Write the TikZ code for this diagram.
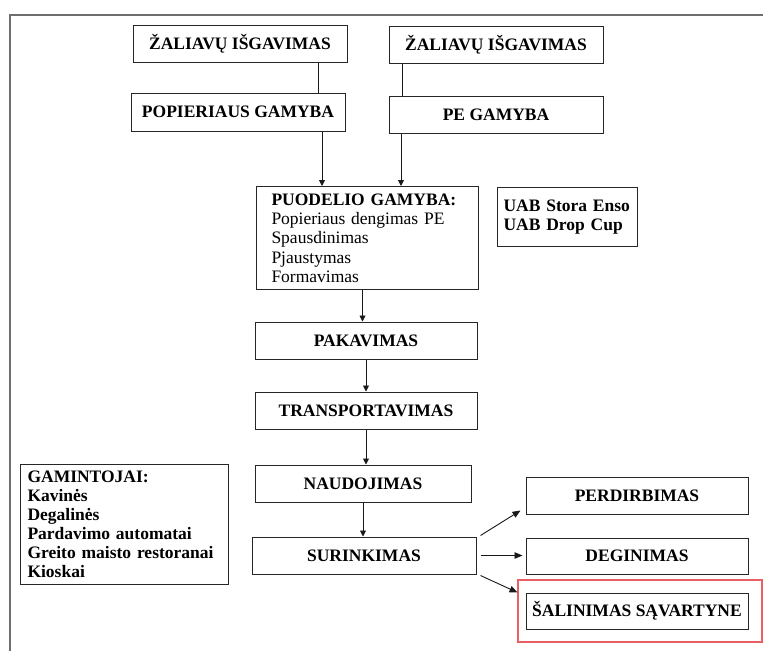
\documentclass[tikz,border=0pt]{standalone}
\usepackage{fontspec}
\setmainfont{Liberation Serif}
\usetikzlibrary{arrows.meta}
\definecolor{framegray}{RGB}{110,110,110}
\definecolor{hlred}{RGB}{232,95,100}
\begin{document}
\begin{tikzpicture}[x=1pt,y=-1pt,
  every node/.style={font=\fontsize{17.5}{19.3}\selectfont},
  box/.style={draw=black!85,line width=1pt,inner sep=0pt,font=\fontsize{17.5}{19.3}\selectfont\bfseries},
  listbox/.style={draw=black!85,line width=1pt,anchor=north west,inner ysep=0pt,align=left},
  link/.style={draw=black!90,line width=0.9pt},
  flow/.style={link,-{Triangle[length=6pt,width=6pt]}},
  side/.style={link,-{Triangle[length=8pt,width=6.5pt]}}]
\useasboundingbox (0,0) rectangle (763,651);
% page frame
\draw[framegray,line width=1.2pt] (10,651) -- (10,15) -- (763,15);

% supply chain, top
\node[box,minimum width=214pt,minimum height=37pt] (z1) at (240,43.5) {ŽALIAVŲ IŠGAVIMAS};
\node[box,minimum width=214pt,minimum height=38pt] (pop) at (238,112) {POPIERIAUS GAMYBA};
\node[box,minimum width=214pt,minimum height=37pt] (z2) at (496,44.5) {ŽALIAVŲ IŠGAVIMAS};
\node[box,minimum width=214pt,minimum height=37pt] (pe) at (496,114.5) {PE GAMYBA};

% cup production
\node[listbox,minimum width=222pt,minimum height=103pt,text width=192pt,inner xsep=15pt] (puod) at (256,186)
  {\textbf{PUODELIO GAMYBA:}\\Popieriaus dengimas PE\\Spausdinimas\\Pjaustymas\\Formavimas};
\node[listbox,minimum width=140pt,minimum height=59pt,text width=128pt,inner xsep=6pt,font=\fontsize{17.5}{19.3}\selectfont\bfseries] (uab) at (497,187)
  {UAB Stora Enso\\UAB Drop Cup};

% main chain
\node[box,minimum width=222pt,minimum height=37pt] (pak) at (366,340.5) {PAKAVIMAS};
\node[box,minimum width=222pt,minimum height=37pt] (trans) at (366,410.5) {TRANSPORTAVIMAS};
\node[box,minimum width=216pt,minimum height=37pt] (naud) at (363,483.5) {NAUDOJIMAS};
\node[box,minimum width=224pt,minimum height=37pt] (sur) at (364,555.5) {SURINKIMAS};

% users
\node[listbox,minimum width=208pt,minimum height=120pt,text width=194pt,inner xsep=7pt,font=\fontsize{17.5}{19.1}\selectfont\bfseries] (gam) at (20,464)
  {GAMINTOJAI:\\Kavinės\\Degalinės\\Pardavimo automatai\\Greito maisto restoranai\\Kioskai};

% end of life
\node[box,minimum width=222pt,minimum height=37pt] (per) at (637,495.5) {PERDIRBIMAS};
\node[box,minimum width=222pt,minimum height=36pt] (deg) at (637,556) {DEGINIMAS};
\node[box,minimum width=222pt,minimum height=36pt] (sal) at (637,611) {ŠALINIMAS SĄVARTYNE};
\node[draw=hlred,line width=1.1pt,minimum width=244pt,minimum height=62pt,inner sep=0pt] (hl) at (640,611) {};

% connectors
\draw[link] ([xshift=78pt]z1.south) -- ([xshift=78pt]z1.south |- pop.north);
\draw[link] ([xshift=-94pt]z2.south) -- ([xshift=-94pt]z2.south |- pe.north);
\draw[flow] ([xshift=84pt]pop.south) -- ([xshift=84pt]pop.south |- puod.north);
\draw[flow] ([xshift=-95pt]pe.south) -- ([xshift=-95pt]pe.south |- puod.north);
\draw[flow] ([xshift=-5pt]puod.south) -- ([xshift=-5pt]puod.south |- pak.north);
\draw[flow] (pak.south) -- (pak.south |- trans.north);
\draw[flow] (trans.south) -- (trans.south |- naud.north);
\draw[flow] (naud.south) -- (naud.south |- sur.north);
\draw[side] ([xshift=4pt,yshift=1pt]sur.north east) -- ([xshift=-5pt,yshift=4pt]per.south west);
\draw[side] ([xshift=4pt]sur.east) -- ([xshift=-3pt]sur.east -| deg.west);
\draw[side] ([xshift=4pt,yshift=-1pt]sur.south east) -- ([xshift=-8pt]sal.north west);
\end{tikzpicture}
\end{document}
